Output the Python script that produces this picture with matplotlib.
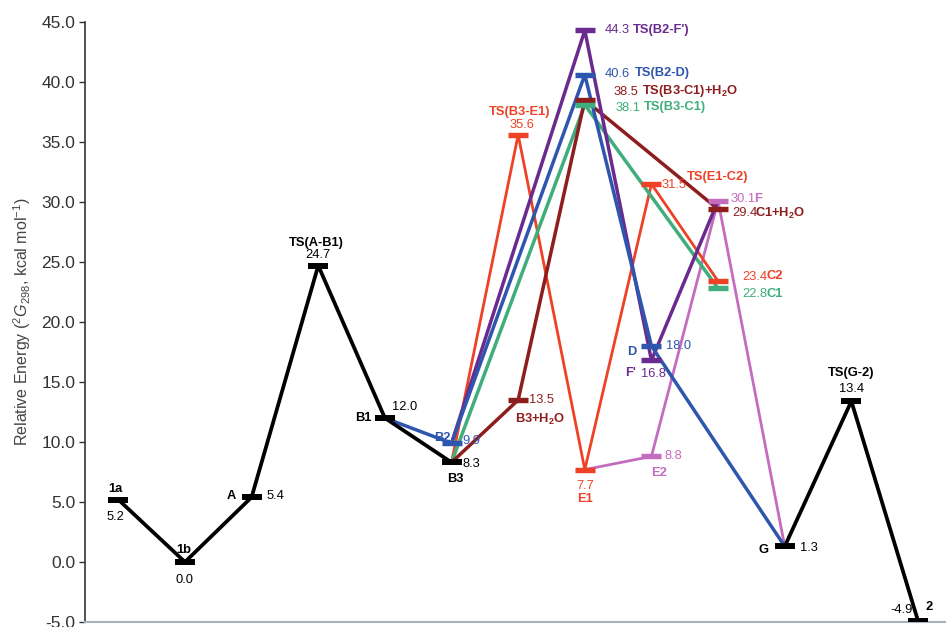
"""
Perfil de energia libre relativa (diagrama de niveles con caminos de reaccion).
"""

import matplotlib
matplotlib.use("Agg")
import matplotlib.pyplot as plt

plt.rcParams["font.family"] = ["Liberation Sans", "DejaVu Sans"]
plt.rcParams["mathtext.fontset"] = "custom"
plt.rcParams["mathtext.rm"] = "Liberation Sans"
plt.rcParams["mathtext.it"] = "Liberation Sans:italic"
plt.rcParams["mathtext.bf"] = "Liberation Sans:bold"

# estados: nombre, posicion en la coordenada de reaccion, energia (kcal/mol)
state_names = ["1a", "1b", "A", "TS(A-B1)", "B1", "B2", "B3", "B3+H2O", "TS(B3-E1)",
               "TS(B2-F')", "TS(B2-D)", "TS(B3-C1)+H2O", "TS(B3-C1)", "E1",
               "TS(E1-C2)", "D", "F'", "E2", "F", "C1+H2O", "C2", "C1",
               "G", "TS(G-2)", "2"]
state_slots = [0, 1, 2, 3, 4, 5, 5, 6, 6,
               7, 7, 7, 7, 7,
               8, 8, 8, 8, 9, 9, 9, 9,
               10, 11, 12]
state_energies = [5.2, 0.0, 5.4, 24.7, 12.0, 9.9, 8.3, 13.5, 35.6,
                  44.3, 40.6, 38.5, 38.1, 7.7,
                  31.5, 18.0, 16.8, 8.8, 30.1, 29.4, 23.4, 22.8,
                  1.3, 13.4, -4.9]

# caminos
path_black_1 = ["1a", "1b", "A", "TS(A-B1)", "B1", "B3"]
path_black_2 = ["G", "TS(G-2)", "2"]
path_blue = ["B1", "B2", "TS(B2-D)", "D", "G"]
path_purple = ["B2", "TS(B2-F')", "F'", "F"]
path_red = ["B3", "TS(B3-E1)", "E1", "TS(E1-C2)", "C2"]
path_green = ["B3", "TS(B3-C1)", "C1"]
path_maroon = ["B3", "B3+H2O", "TS(B3-C1)+H2O", "C1+H2O"]
path_orchid = ["E1", "E2", "F", "G"]

BLACK = "#000000"
BLUE = "#2f56ae"
PURPLE = "#6b2a8e"
RED = "#ee4226"
GREEN = "#3fae7c"
MAROON = "#8e1d1d"
ORCHID = "#c46cc0"

bar_colors = {
    "B2": BLUE, "B3+H2O": MAROON, "TS(B3-E1)": RED, "TS(B2-F')": PURPLE,
    "TS(B2-D)": BLUE, "TS(B3-C1)+H2O": MAROON, "TS(B3-C1)": GREEN, "E1": RED,
    "TS(E1-C2)": RED, "D": BLUE, "F'": PURPLE, "E2": ORCHID, "F": ORCHID,
    "C1+H2O": MAROON, "C2": RED, "C1": GREEN,
}

H2 = r"H$_\mathbf{2}$O"

# etiquetas: (texto nombre, dx, dy, ha) y (dx, dy, ha) del valor, en pixeles
labels = {
    "1a": (("1a", -3, 11, "center"), (-3, -17, "center")),
    "1b": (("1b", -1, 12, "center"), (0, -18, "center")),
    "A": (("A", -16, 1, "right"), (15, 1, "left")),
    "TS(A-B1)": (("TS(A-B1)", -2, 23, "center"), (0, 11, "center")),
    "B1": (("B1", -13, 0, "right"), (7, 11, "left")),
    "B2": (("B2", -9, 5, "center"), (11, 2, "left")),
    "B3": (("B3", 4, -17, "center"), (11, -2, "left")),
    "B3+H2O": (("B3+" + H2, -3, -19, "left"), (11, 0, "left")),
    "TS(B3-E1)": (("TS(B3-E1)", 1, 23, "center"), (4, 10, "center")),
    "TS(B2-F')": (("TS(B2-F')", 48, 0, "left"), (20, 0, "left")),
    "TS(B2-D)": (("TS(B2-D)", 50, 2, "left"), (20, 1, "left")),
    "TS(B3-C1)+H2O": (("TS(B3-C1)+" + H2, 57, 9, "left"), (29, 8, "left")),
    "TS(B3-C1)": (("TS(B3-C1)", 59, -2, "left"), (31, -3, "left")),
    "E1": (("E1", 0, -29, "center"), (0, -16, "center")),
    "TS(E1-C2)": (("TS(E1-C2)", 35, 7, "left"), (10, -1, "left")),
    "D": (("D", -15, -6, "right"), (15, 0, "left")),
    "F'": (("F'", -15, -13, "right"), (2, -14, "center")),
    "E2": (("E2", 8, -17, "center"), (13, 0, "left")),
    "F": (("F", 36, 2, "left"), (12, 2, "left")),
    "C1+H2O": (("C1+" + H2, 37, -4, "left"), (14, -4, "left")),
    "C2": (("C2", 48, 5, "left"), (24, 4, "left")),
    "C1": (("C1", 48, -6, "left"), (24, -6, "left")),
    "G": (("G", -16, -4, "right"), (15, -2, "left")),
    "TS(G-2)": (("TS(G-2)", 0, 28, "center"), (0, 12, "center")),
    "2": (("2", 7, 14, "left"), (-5, 11, "right")),
}


def _lookup(names):
    xs = [state_slots[state_names.index(n)] for n in names]
    ys = [state_energies[state_names.index(n)] for n in names]
    return xs, ys


fig = plt.figure(figsize=(9.46, 6.27), dpi=100)
ax = fig.add_axes([85 / 946, 5 / 627, 861 / 946, 600 / 627])

paths = [
    (path_orchid, ORCHID, 2.0),
    (path_red, RED, 2.0),
    (path_green, GREEN, 2.5),
    (path_maroon, MAROON, 2.5),
    (path_purple, PURPLE, 2.5),
    (path_blue, BLUE, 2.5),
    (path_black_1, BLACK, 2.7),
    (path_black_2, BLACK, 2.7),
]
for names, col, lw in paths:
    xs, ys = _lookup(names)
    ax.plot(xs, ys, color=col, lw=lw, solid_capstyle="butt", zorder=2)

half = 0.15
for name, x, y in zip(state_names, state_slots, state_energies):
    col = bar_colors.get(name, BLACK)
    ax.hlines(y, x - half, x + half, color=col, lw=4.3 if col == BLACK else 3.9, zorder=3)
    (txt, ndx, ndy, nha), (vdx, vdy, vha) = labels[name]
    ax.annotate(txt, (x, y), xytext=(ndx, ndy), textcoords="offset pixels",
                ha=nha, va="center", fontsize=9.3, fontweight="bold", color=col, zorder=4)
    ax.annotate(f"{y:.1f}", (x, y), xytext=(vdx, vdy), textcoords="offset pixels",
                ha=vha, va="center", fontsize=9.3, color=col, zorder=4)

ax.set_xlim(-0.5, 12.42)
ax.set_ylim(-5, 45)
ax.set_yticks([-5, 0, 5, 10, 15, 20, 25, 30, 35, 40, 45])
ax.set_yticklabels([f"{v:.1f}" for v in ax.get_yticks()])
ax.set_xticks([])
ax.tick_params(axis="y", direction="out", length=4, width=1, colors="#333333",
               labelsize=12.5, pad=3)
ax.spines["top"].set_visible(False)
ax.spines["right"].set_visible(False)
ax.spines["left"].set_color("#333333")
ax.spines["left"].set_linewidth(1.2)
ax.spines["bottom"].set_color("#a9b3bd")
ax.spines["bottom"].set_linewidth(1.5)
ax.set_ylabel(r"Relative Energy ($^{2}G_{298}$, kcal mol$^{-1}$)",
              fontsize=11.5, color="#444444")
ax.yaxis.set_label_coords(-52 / 861, 0.5)

fig.savefig("out.png", dpi=100)
